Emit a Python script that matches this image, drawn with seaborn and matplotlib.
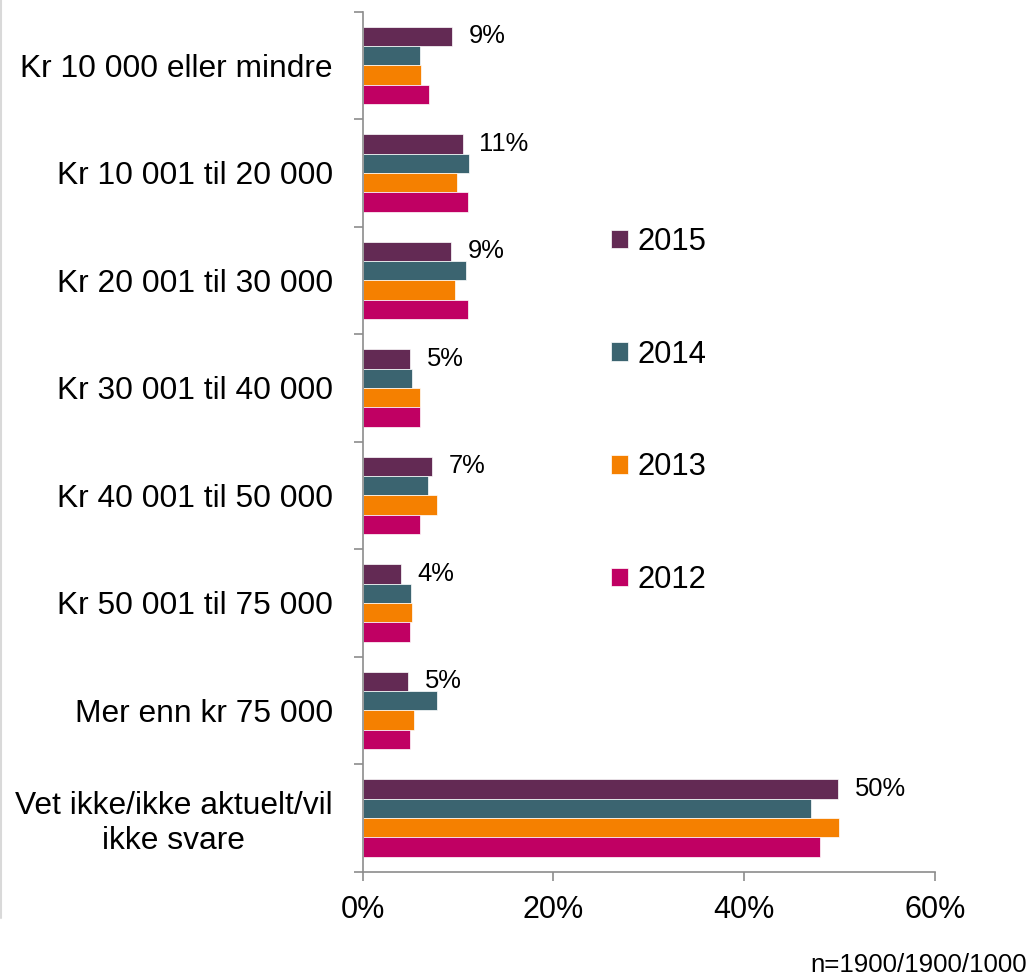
# Income-range survey chart, horizontal grouped bars per year
import numpy as np
import pandas as pd
import matplotlib
matplotlib.use('Agg')
import matplotlib.pyplot as plt
from matplotlib.lines import Line2D
from matplotlib.ticker import FuncFormatter
import seaborn as sns

categories = [
    "Kr 10 000 eller mindre",
    "Kr 10 001 til 20 000",
    "Kr 20 001 til 30 000",
    "Kr 30 001 til 40 000",
    "Kr 40 001 til 50 000",
    "Kr 50 001 til 75 000",
    "Mer enn kr 75 000",
    "Vet ikke/ikke aktuelt/vil\nikke svare",
]
years = ["2015", "2014", "2013", "2012"]

values_2015 = [9.4, 10.5, 9.3, 5.0, 7.3, 4.0, 4.75, 49.9]
values_2014 = [6.0, 11.2, 10.8, 5.2, 6.8, 5.1, 7.8, 47.0]
values_2013 = [6.1, 9.9, 9.65, 6.0, 7.8, 5.2, 5.35, 50.0]
values_2012 = [7.0, 11.0, 11.0, 6.0, 6.0, 5.0, 5.0, 48.0]
labels_2015 = ["9%", "11%", "9%", "5%", "7%", "4%", "5%", "50%"]

colors = ["#632A54", "#3B6470", "#F58000", "#C00063"]
xticks = [0, 20, 40, 60]
note = "n=1900/1900/1000"

series = [values_2015, values_2014, values_2013, values_2012]
rows = []
for year, vals in zip(years, series):
    for cat, v in zip(categories, vals):
        rows.append({"category": cat, "year": year, "value": v})
df = pd.DataFrame(rows)

sns.set_style("white")
plt.rcParams['font.family'] = ['Liberation Sans', 'DejaVu Sans']
plt.rcParams['text.color'] = 'black'
plt.rcParams['xtick.labelcolor'] = 'black'
plt.rcParams['ytick.labelcolor'] = 'black'

W, H = 1036, 977
fig = plt.figure(figsize=(W / 100, H / 100), dpi=100)
ax = fig.add_axes([362.7 / W, 1 - 871.7 / H, (934.7 - 362.7) / W, (871.7 - 11.7) / H])

sns.barplot(data=df, y="category", x="value", hue="year", order=categories,
            hue_order=years, palette=colors, saturation=1, orient="h",
            width=0.72, gap=0, edgecolor="white", linewidth=0.5, ax=ax,
            legend=True)

ax.set_xlim(0, 60)
ax.set_ylim(7.5, -0.5)
ax.set_xlabel("")
ax.set_ylabel("")

# value labels only on the 2015 bars
ax.bar_label(ax.containers[0], labels=labels_2015, padding=12, fontsize=18.4,
             color="black")

# spines and ticks
spine_col = "#8C8C8C"
for s in ["top", "right"]:
    ax.spines[s].set_visible(False)
for s in ["left", "bottom"]:
    ax.spines[s].set_color(spine_col)
    ax.spines[s].set_linewidth(1.2)

ax.set_xticks(xticks)
ax.xaxis.set_major_formatter(FuncFormatter(lambda v, p: f"{v:.0f}%"))
ax.tick_params(axis='x', which='major', length=6.5, width=1.2, color=spine_col,
               direction='out', labelsize=22, pad=10, bottom=True,
               labelcolor='black')
ax.set_yticks(range(len(categories)))
ax.set_yticklabels(categories, multialignment='center')
ax.tick_params(axis='y', which='major', length=0, labelsize=22.9, pad=21.6,
               labelcolor='black')
ax.set_yticks(np.arange(-0.5, len(categories), 1), minor=True)
ax.tick_params(axis='y', which='minor', length=6.8, width=1.2, color=spine_col,
               direction='out', left=True)

# legend
handles, labels = ax.get_legend_handles_labels()
leg = ax.legend(handles, labels, loc='upper left',
                bbox_to_anchor=(611 / W, 1 - 227 / H),
                bbox_transform=fig.transFigure, frameon=False, fontsize=22.3,
                handlelength=0.55, handleheight=0.55, handletextpad=0.3,
                labelspacing=2.67, borderpad=0, borderaxespad=0)
for t in leg.get_texts():
    t.set_color('black')

fig.text(1027 / W, 1 - 972 / H, note, ha='right', va='baseline', fontsize=18.6,
         color='black')

# thin frame line on the left edge
fig.add_artist(Line2D([1 / W, 1 / W], [1, 1 - 918 / H], transform=fig.transFigure,
                      color="#D9D9D9", linewidth=1.5))

fig.savefig("out.png", dpi=100)
plt.close(fig)
